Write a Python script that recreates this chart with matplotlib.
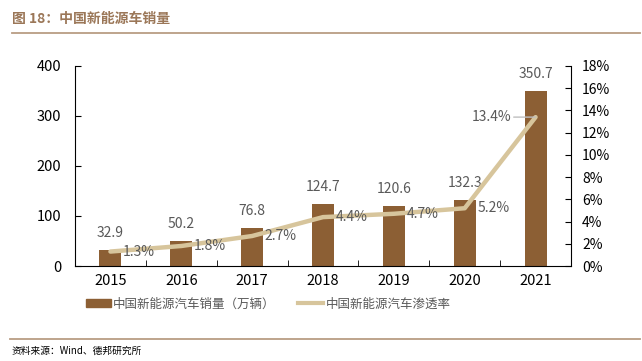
import matplotlib.pyplot as plt
import numpy as np
from matplotlib.lines import Line2D
from matplotlib.patches import Patch

plt.rcParams['font.family'] = ['Noto Sans CJK SC', 'DejaVu Sans']

years = ['2015', '2016', '2017', '2018', '2019', '2020', '2021']
sales = [32.9, 50.2, 76.8, 124.7, 120.6, 132.3, 350.7]
rate = [1.3, 1.8, 2.7, 4.4, 4.7, 5.2, 13.4]
rate_labels = ['1.3%', '1.8%', '2.7%', '4.4%', '4.7%', '5.2%', '13.4%']

bar_color = '#8c5f34'
line_color = '#d7c59c'
grey = '#595959'

fig = plt.figure(figsize=(6.42, 3.61), dpi=100)
ax = fig.add_axes([75 / 642, 1 - 266 / 361, 496 / 642, 200 / 361])
ax2 = ax.twinx()

x = np.arange(len(years))
ax.bar(x, sales, width=0.31, color=bar_color, zorder=2)
ax.set_xlim(-0.5, 6.5)
ax.set_ylim(0, 400)
ax.set_yticks([0, 100, 200, 300, 400])
ax.set_xticks(x)
ax.set_xticklabels(years, fontsize=10.5, color='black')
ax.set_xticks(np.arange(0.5, 6.5, 1), minor=True)
ax.tick_params(axis='x', which='major', length=0, pad=6)
ax.tick_params(axis='x', which='minor', direction='in', length=4)
ax.tick_params(axis='y', direction='in', length=4, labelsize=10.5, pad=10)
for s in ['top', 'right']:
    ax.spines[s].set_visible(False)

for xi, v in zip(x, sales):
    ax.annotate(f'{v}', (xi, v), xytext=(0, 12), textcoords='offset points',
                ha='center', va='center', fontsize=10, color=grey)

ax2.plot(x, rate, color=line_color, lw=3.2, zorder=3, solid_capstyle='round')
ax2.set_ylim(0, 18)
ax2.set_yticks(np.arange(0, 19, 2))
ax2.set_yticklabels([f'{t}%' for t in range(0, 19, 2)])
ax2.tick_params(axis='y', direction='in', length=4, labelsize=10, pad=8)
for s in ['top', 'left']:
    ax2.spines[s].set_visible(False)
ax2.spines['bottom'].set_visible(False)

for xi, v, lab in zip(x[:-1], rate[:-1], rate_labels[:-1]):
    ax2.annotate(lab, (xi, v), xytext=(20.5, 0), textcoords='offset points',
                 ha='center', va='center', fontsize=10, color=grey)
# last point: label to the left with a short grey leader line
ax2.annotate(rate_labels[-1], (x[-1], rate[-1]), xytext=(-32, 0),
             textcoords='offset points', ha='center', va='center',
             fontsize=10, color=grey,
             arrowprops=dict(arrowstyle='-', color='#bfbfbf', lw=1,
                             shrinkA=0, shrinkB=0))

handles = [Patch(color=bar_color), Line2D([], [], color=line_color, lw=3)]
fig.legend(handles, ['中国新能源汽车销量（万辆）', '中国新能源汽车渗透率'],
           loc='center', bbox_to_anchor=(268 / 642, 1 - 304 / 361), ncol=2,
           frameon=False, fontsize=9, labelcolor=grey,
           handlelength=2.0, handleheight=0.6, handletextpad=0.2,
           columnspacing=1.8)

# title and rules
fig.text(12 / 642, 1 - 19 / 361, '图 18：中国新能源车销量', fontsize=10,
         fontweight='bold', color='#9b7758', va='center')
fig.add_artist(Line2D([12 / 642, 640 / 642], [1 - 33 / 361, 1 - 33 / 361],
                      color='#b99d84', lw=1.3))
fig.add_artist(Line2D([10 / 642, 640 / 642], [1 - 339 / 361, 1 - 339 / 361],
                      color='#b99d84', lw=1.3))
fig.text(12 / 642, 1 - 351 / 361, '资料来源：Wind、德邦研究所', fontsize=7,
         color='black', va='center')

fig.savefig('out.png', dpi=100)
